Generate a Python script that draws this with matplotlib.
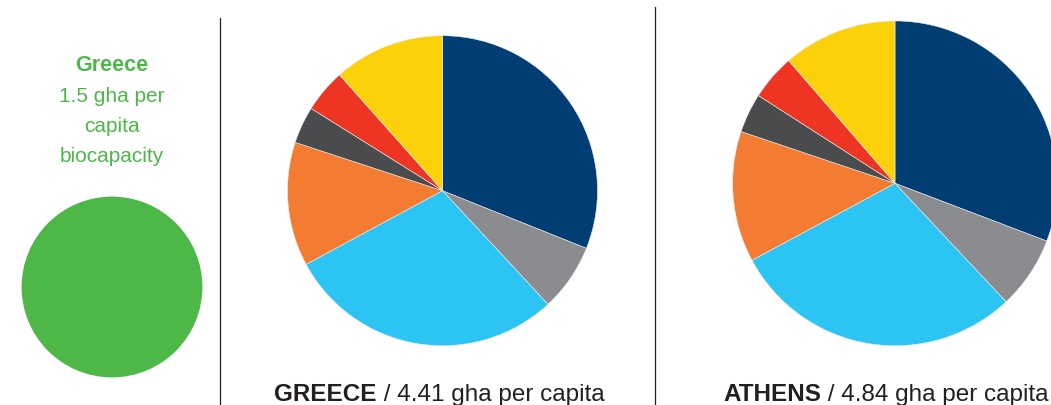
import numpy as np
import matplotlib
matplotlib.use('Agg')
import matplotlib.pyplot as plt
from matplotlib.patches import Circle

plt.rcParams['font.family'] = ['Liberation Sans', 'DejaVu Sans']

# footprint components, gha per capita
components = ['Carbon', 'Grazing', 'Food', 'Forest', 'Fishing', 'Built-up', 'Other']
colors = ['#003D73', '#8A8C8F', '#2CC4F2', '#F47C32', '#4A4B4D', '#EE3524', '#FDD10A']
greece_values = [1.37, 0.31, 1.28, 0.57, 0.17, 0.20, 0.51]
athens_values = [1.49, 0.35, 1.41, 0.63, 0.19, 0.22, 0.55]
greece_total = 4.41
athens_total = 4.84
biocapacity = 1.5

W, H = 1051, 405
fig = plt.figure(figsize=(W / 100, H / 100), dpi=100)
ax = fig.add_axes([0, 0, 1, 1])

# circle area scales with gha, 155 px radius for 4.41
k = 155 / np.sqrt(greece_total)
base = H - 345.7  # pies sit on a common bottom line

def footprint_pie(values, total, cx):
    r = k * np.sqrt(total)
    ax.pie(values, colors=colors, startangle=90, counterclock=False,
           center=(cx, base + r), radius=r,
           wedgeprops=dict(linewidth=0.4, edgecolor='#e8eef2'))
    return r

footprint_pie(greece_values, greece_total, 442.5)
footprint_pie(athens_values, athens_total, 895)

# biocapacity circle
ax.add_patch(Circle((112, H - 287), k * np.sqrt(biocapacity), color='#4DB848', lw=0))

green = '#4DB848'
ax.text(112, H - 71, 'Greece', color=green, fontsize=15.5, fontweight='bold', ha='center', va='baseline')
for i, line in enumerate(['1.5 gha per', 'capita', 'biocapacity']):
    ax.text(112, H - 101.5 - 30.3 * i, line, color=green, fontsize=15, ha='center', va='baseline')

# divider lines
ink = '#231F20'
ax.plot([220, 220], [0, H - 18], color=ink, lw=0.9)
ax.plot([654.5, 654.5], [0, H - 7], color=ink, lw=0.9)

ax.set_xlim(0, W)
ax.set_ylim(0, H)
ax.set_aspect('equal')
ax.axis('off')

# captions: bold name + regular value, centred under each pie
fig.canvas.draw()
renderer = fig.canvas.get_renderer()
for name, total, cx in [('GREECE', greece_total, 439.5), ('ATHENS', athens_total, 886)]:
    t1 = ax.text(0, H - 401, name, color=ink, fontsize=17.5, fontweight='bold', va='baseline')
    t2 = ax.text(0, H - 401, ' / %.2f gha per capita' % total, color=ink, fontsize=17.5, va='baseline')
    w1 = t1.get_window_extent(renderer).width
    w2 = t2.get_window_extent(renderer).width
    x0 = cx - (w1 + w2) / 2
    t1.set_x(x0)
    t2.set_x(x0 + w1)

fig.savefig('out.png', dpi=100)
